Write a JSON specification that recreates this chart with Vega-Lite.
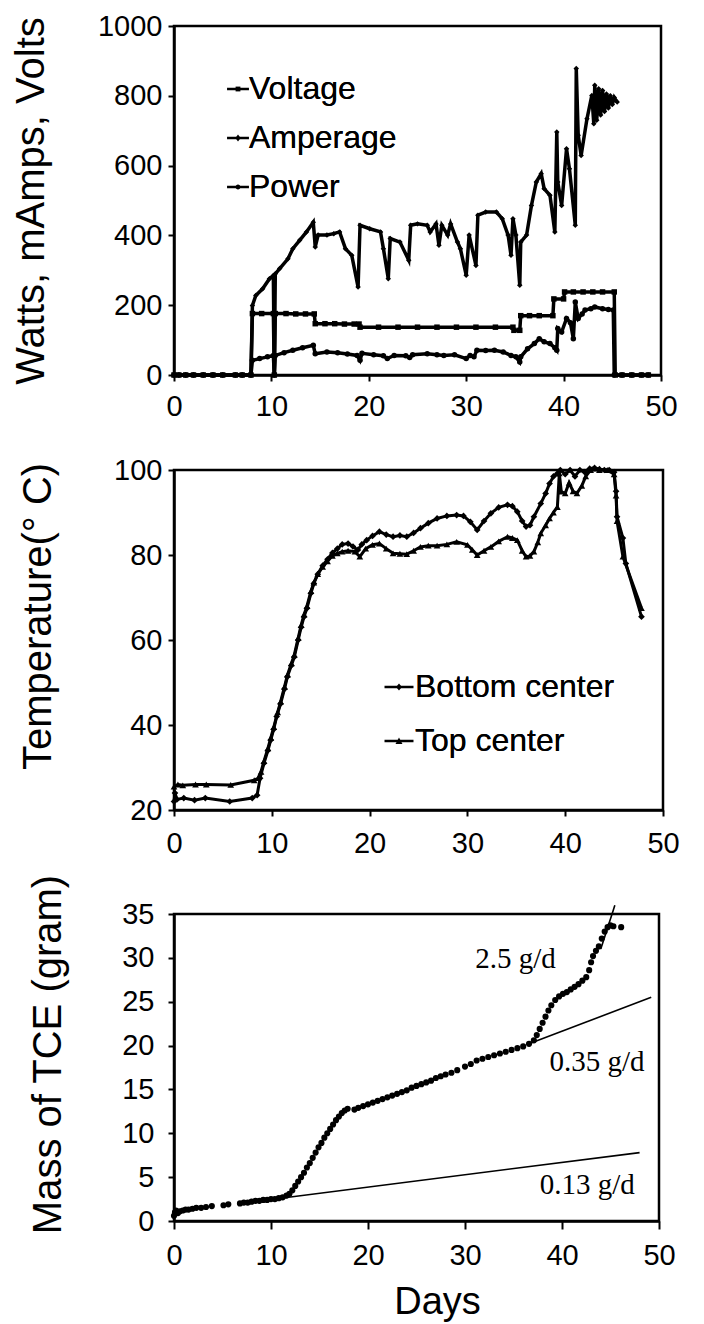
{
  "$schema": "https://vega.github.io/schema/vega-lite/v6.json",
  "padding": {"left": 10, "top": 10, "right": 5, "bottom": 0},
  "background": "white",
  "config": {
    "view": {"stroke": "black", "strokeWidth": 2.5},
    "font": "Liberation Sans",
    "axis": {"grid": false, "domainColor": "black", "domainWidth": 2.5, "tickColor": "black", "tickWidth": 2, "tickSize": 6, "labelColor": "black", "labelFontSize": 29, "labelFont": "Liberation Sans", "titleFont": "Liberation Sans", "titleFontSize": 40, "titleFontWeight": "normal", "titleColor": "black", "labelPadding": 6, "labelOverlap": false, "format": "d"},
    "legend": {"labelFont": "Liberation Sans", "labelColor": "black", "labelFontSize": 32, "labelLimit": 400, "symbolStrokeWidth": 2.5, "padding": 0, "labelOffset": 3}
  },
  "datasets": {
    "elec": [
      {"series":"Voltage","day":0,"value":0},{"series":"Voltage","day":0.5,"value":0},{"series":"Voltage","day":1.2,"value":0},{"series":"Voltage","day":2,"value":0},{"series":"Voltage","day":3,"value":0},{"series":"Voltage","day":4,"value":0},{"series":"Voltage","day":5,"value":0},{"series":"Voltage","day":6.3,"value":0},{"series":"Voltage","day":7,"value":0},{"series":"Voltage","day":7.9,"value":0},{"series":"Voltage","day":8.05,"value":176},{"series":"Voltage","day":9,"value":176},{"series":"Voltage","day":10.2,"value":176},{"series":"Voltage","day":10.3,"value":0},{"series":"Voltage","day":10.4,"value":176},{"series":"Voltage","day":11.5,"value":176},{"series":"Voltage","day":12.5,"value":175},{"series":"Voltage","day":13.5,"value":175},{"series":"Voltage","day":14.4,"value":175},{"series":"Voltage","day":14.5,"value":147},{"series":"Voltage","day":15.5,"value":147},{"series":"Voltage","day":16.5,"value":147},{"series":"Voltage","day":17.5,"value":146},{"series":"Voltage","day":18.5,"value":146},{"series":"Voltage","day":19.0,"value":146},{"series":"Voltage","day":19.1,"value":137},{"series":"Voltage","day":21,"value":137},{"series":"Voltage","day":23,"value":137},{"series":"Voltage","day":25,"value":137},{"series":"Voltage","day":27,"value":137},{"series":"Voltage","day":29,"value":137},{"series":"Voltage","day":31,"value":137},{"series":"Voltage","day":33,"value":137},{"series":"Voltage","day":34.8,"value":137},{"series":"Voltage","day":34.9,"value":128},{"series":"Voltage","day":35.5,"value":128},{"series":"Voltage","day":35.6,"value":170},{"series":"Voltage","day":36.5,"value":170},{"series":"Voltage","day":37.5,"value":170},{"series":"Voltage","day":38.9,"value":170},{"series":"Voltage","day":39.0,"value":218},{"series":"Voltage","day":40.0,"value":218},{"series":"Voltage","day":40.1,"value":238},{"series":"Voltage","day":41,"value":238},{"series":"Voltage","day":42,"value":238},{"series":"Voltage","day":43,"value":238},{"series":"Voltage","day":44,"value":238},{"series":"Voltage","day":45.2,"value":238},{"series":"Voltage","day":45.3,"value":0},{"series":"Voltage","day":46,"value":0},{"series":"Voltage","day":47,"value":0},{"series":"Voltage","day":48,"value":0},{"series":"Voltage","day":48.7,"value":0},
      {"series":"Amperage","day":0,"value":0},{"series":"Amperage","day":0.5,"value":0},{"series":"Amperage","day":1.2,"value":0},{"series":"Amperage","day":2,"value":0},{"series":"Amperage","day":3,"value":0},{"series":"Amperage","day":4,"value":0},{"series":"Amperage","day":5,"value":0},{"series":"Amperage","day":6.3,"value":0},{"series":"Amperage","day":7,"value":0},{"series":"Amperage","day":7.9,"value":0},{"series":"Amperage","day":8.05,"value":199},{"series":"Amperage","day":8.4,"value":228},{"series":"Amperage","day":9.1,"value":247},{"series":"Amperage","day":9.8,"value":276},{"series":"Amperage","day":10.2,"value":285},{"series":"Amperage","day":10.3,"value":0},{"series":"Amperage","day":10.4,"value":290},{"series":"Amperage","day":10.85,"value":305},{"series":"Amperage","day":11.7,"value":333},{"series":"Amperage","day":12.2,"value":362},{"series":"Amperage","day":12.9,"value":386},{"series":"Amperage","day":13.6,"value":410},{"series":"Amperage","day":14.3,"value":438},{"series":"Amperage","day":14.5,"value":367},{"series":"Amperage","day":14.8,"value":401},{"series":"Amperage","day":15.7,"value":401},{"series":"Amperage","day":16.4,"value":405},{"series":"Amperage","day":17.0,"value":410},{"series":"Amperage","day":17.6,"value":362},{"series":"Amperage","day":18.25,"value":343},{"series":"Amperage","day":18.9,"value":252},{"series":"Amperage","day":19.1,"value":429},{"series":"Amperage","day":20.1,"value":419},{"series":"Amperage","day":21.2,"value":410},{"series":"Amperage","day":21.5,"value":362},{"series":"Amperage","day":22.0,"value":276},{"series":"Amperage","day":22.2,"value":391},{"series":"Amperage","day":23.2,"value":381},{"series":"Amperage","day":24.1,"value":329},{"series":"Amperage","day":24.3,"value":429},{"series":"Amperage","day":25.0,"value":433},{"series":"Amperage","day":26.0,"value":429},{"series":"Amperage","day":26.3,"value":410},{"series":"Amperage","day":26.9,"value":433},{"series":"Amperage","day":27.2,"value":372},{"series":"Amperage","day":27.5,"value":429},{"series":"Amperage","day":28.1,"value":401},{"series":"Amperage","day":28.4,"value":433},{"series":"Amperage","day":29.1,"value":381},{"series":"Amperage","day":29.4,"value":362},{"series":"Amperage","day":30.0,"value":286},{"series":"Amperage","day":30.3,"value":401},{"series":"Amperage","day":31.0,"value":314},{"series":"Amperage","day":31.2,"value":458},{"series":"Amperage","day":32.0,"value":467},{"series":"Amperage","day":33.1,"value":467},{"series":"Amperage","day":33.7,"value":448},{"series":"Amperage","day":34.3,"value":401},{"series":"Amperage","day":34.6,"value":343},{"series":"Amperage","day":34.8,"value":448},{"series":"Amperage","day":35.1,"value":401},{"series":"Amperage","day":35.5,"value":257},{"series":"Amperage","day":35.6,"value":381},{"series":"Amperage","day":36.2,"value":401},{"series":"Amperage","day":36.7,"value":486},{"series":"Amperage","day":37.2,"value":553},{"series":"Amperage","day":37.7,"value":577},{"series":"Amperage","day":38.0,"value":534},{"series":"Amperage","day":38.6,"value":515},{"series":"Amperage","day":39.1,"value":410},{"series":"Amperage","day":39.3,"value":696},{"series":"Amperage","day":39.4,"value":553},{"series":"Amperage","day":39.8,"value":486},{"series":"Amperage","day":40.3,"value":648},{"series":"Amperage","day":40.6,"value":591},{"series":"Amperage","day":41.2,"value":429},{"series":"Amperage","day":41.3,"value":878},{"series":"Amperage","day":41.5,"value":687},{"series":"Amperage","day":41.8,"value":629},{"series":"Amperage","day":42.4,"value":734},{"series":"Amperage","day":42.9,"value":801},{"series":"Amperage","day":43.1,"value":720},{"series":"Amperage","day":43.2,"value":830},{"series":"Amperage","day":43.4,"value":730},{"series":"Amperage","day":43.6,"value":820},{"series":"Amperage","day":43.8,"value":745},{"series":"Amperage","day":44.0,"value":815},{"series":"Amperage","day":44.2,"value":755},{"series":"Amperage","day":44.4,"value":805},{"series":"Amperage","day":44.6,"value":765},{"series":"Amperage","day":44.8,"value":800},{"series":"Amperage","day":45.0,"value":775},{"series":"Amperage","day":45.2,"value":795},{"series":"Amperage","day":45.5,"value":782},
      {"series":"Power","day":0,"value":0},{"series":"Power","day":0.5,"value":0},{"series":"Power","day":1.2,"value":0},{"series":"Power","day":2,"value":0},{"series":"Power","day":3,"value":0},{"series":"Power","day":4,"value":0},{"series":"Power","day":5,"value":0},{"series":"Power","day":6.3,"value":0},{"series":"Power","day":7,"value":0},{"series":"Power","day":7.9,"value":0},{"series":"Power","day":8.05,"value":42},{"series":"Power","day":8.8,"value":47},{"series":"Power","day":9.6,"value":52},{"series":"Power","day":10.2,"value":56},{"series":"Power","day":10.3,"value":0},{"series":"Power","day":10.4,"value":56},{"series":"Power","day":11.3,"value":64},{"series":"Power","day":12.2,"value":71},{"series":"Power","day":13.2,"value":78},{"series":"Power","day":14.3,"value":85},{"series":"Power","day":14.5,"value":61},{"series":"Power","day":15.7,"value":66},{"series":"Power","day":16.8,"value":64},{"series":"Power","day":17.8,"value":60},{"series":"Power","day":18.8,"value":56},{"series":"Power","day":19.1,"value":42},{"series":"Power","day":19.3,"value":62},{"series":"Power","day":20.5,"value":58},{"series":"Power","day":21.5,"value":55},{"series":"Power","day":21.9,"value":47},{"series":"Power","day":22.6,"value":56},{"series":"Power","day":23.8,"value":55},{"series":"Power","day":24.2,"value":50},{"series":"Power","day":24.5,"value":58},{"series":"Power","day":26.0,"value":61},{"series":"Power","day":27.0,"value":58},{"series":"Power","day":27.7,"value":56},{"series":"Power","day":28.8,"value":58},{"series":"Power","day":30.0,"value":47},{"series":"Power","day":30.4,"value":56},{"series":"Power","day":30.8,"value":52},{"series":"Power","day":31.1,"value":71},{"series":"Power","day":32.0,"value":70},{"series":"Power","day":32.9,"value":71},{"series":"Power","day":33.8,"value":66},{"series":"Power","day":34.6,"value":56},{"series":"Power","day":35.1,"value":52},{"series":"Power","day":35.5,"value":37},{"series":"Power","day":35.6,"value":52},{"series":"Power","day":36.3,"value":75},{"series":"Power","day":37.0,"value":90},{"series":"Power","day":37.5,"value":104},{"series":"Power","day":38.0,"value":95},{"series":"Power","day":38.6,"value":90},{"series":"Power","day":39.1,"value":78},{"series":"Power","day":39.3,"value":71},{"series":"Power","day":39.4,"value":133},{"series":"Power","day":39.8,"value":123},{"series":"Power","day":40.3,"value":162},{"series":"Power","day":40.7,"value":150},{"series":"Power","day":41.0,"value":104},{"series":"Power","day":41.2,"value":209},{"series":"Power","day":41.5,"value":162},{"series":"Power","day":41.9,"value":175},{"series":"Power","day":42.2,"value":186},{"series":"Power","day":42.8,"value":190},{"series":"Power","day":43.2,"value":195},{"series":"Power","day":44.0,"value":190},{"series":"Power","day":44.6,"value":188},{"series":"Power","day":45.1,"value":186},{"series":"Power","day":45.2,"value":0},{"series":"Power","day":46,"value":0},{"series":"Power","day":47,"value":0},{"series":"Power","day":48,"value":0},{"series":"Power","day":48.7,"value":0}
    ],
    "temp": [
      {"series":"Bottom center","day":0,"temp":22},{"series":"Bottom center","day":0.1,"temp":24},{"series":"Bottom center","day":0.3,"temp":22.5},{"series":"Bottom center","day":1,"temp":22.8},{"series":"Bottom center","day":2.1,"temp":22.3},{"series":"Bottom center","day":3.2,"temp":22.8},{"series":"Bottom center","day":5.7,"temp":22},{"series":"Bottom center","day":8.0,"temp":22.8},{"series":"Bottom center","day":8.5,"temp":23.5},{"series":"Bottom center","day":8.8,"temp":27.5},{"series":"Bottom center","day":9.2,"temp":31},{"series":"Bottom center","day":9.6,"temp":34},{"series":"Bottom center","day":9.9,"temp":36.5},{"series":"Bottom center","day":10.2,"temp":39},{"series":"Bottom center","day":10.5,"temp":42},{"series":"Bottom center","day":10.9,"temp":45},{"series":"Bottom center","day":11.3,"temp":48.5},{"series":"Bottom center","day":11.6,"temp":51.4},{"series":"Bottom center","day":12.0,"temp":54},{"series":"Bottom center","day":12.3,"temp":56},{"series":"Bottom center","day":12.7,"temp":60},{"series":"Bottom center","day":13.0,"temp":63},{"series":"Bottom center","day":13.3,"temp":65.5},{"series":"Bottom center","day":13.6,"temp":67.5},{"series":"Bottom center","day":14.0,"temp":71},{"series":"Bottom center","day":14.3,"temp":73.3},{"series":"Bottom center","day":14.7,"temp":75.5},{"series":"Bottom center","day":15.2,"temp":77.5},{"series":"Bottom center","day":15.7,"temp":79},{"series":"Bottom center","day":16.2,"temp":80.5},{"series":"Bottom center","day":16.7,"temp":81.5},{"series":"Bottom center","day":17.2,"temp":82.5},{"series":"Bottom center","day":17.8,"temp":82.7},{"series":"Bottom center","day":18.3,"temp":82},{"series":"Bottom center","day":18.8,"temp":81.2},{"series":"Bottom center","day":19.2,"temp":82.5},{"series":"Bottom center","day":19.7,"temp":83.5},{"series":"Bottom center","day":20.3,"temp":84.5},{"series":"Bottom center","day":21.0,"temp":85.5},{"series":"Bottom center","day":21.7,"temp":84.8},{"series":"Bottom center","day":22.4,"temp":84.3},{"series":"Bottom center","day":23.1,"temp":84.6},{"series":"Bottom center","day":23.8,"temp":84.3},{"series":"Bottom center","day":24.5,"temp":85.2},{"series":"Bottom center","day":25.2,"temp":86.3},{"series":"Bottom center","day":26.0,"temp":87.5},{"series":"Bottom center","day":26.9,"temp":88.6},{"series":"Bottom center","day":27.9,"temp":89.2},{"series":"Bottom center","day":28.9,"temp":89.4},{"series":"Bottom center","day":29.6,"temp":89.2},{"series":"Bottom center","day":30.3,"temp":87.8},{"series":"Bottom center","day":31.0,"temp":85.9},{"series":"Bottom center","day":31.7,"temp":88},{"series":"Bottom center","day":32.4,"temp":89.8},{"series":"Bottom center","day":33.2,"temp":91.2},{"series":"Bottom center","day":34.1,"temp":91.8},{"series":"Bottom center","day":34.6,"temp":91.5},{"series":"Bottom center","day":35.1,"temp":90.2},{"series":"Bottom center","day":35.6,"temp":88},{"series":"Bottom center","day":36.0,"temp":86.7},{"series":"Bottom center","day":36.4,"temp":87},{"series":"Bottom center","day":36.8,"temp":89},{"series":"Bottom center","day":37.5,"temp":92.1},{"series":"Bottom center","day":38.0,"temp":94.5},{"series":"Bottom center","day":38.4,"temp":96.8},{"series":"Bottom center","day":38.8,"temp":98.5},{"series":"Bottom center","day":39.2,"temp":99.2},{"series":"Bottom center","day":39.5,"temp":100},{"series":"Bottom center","day":40.0,"temp":99},{"series":"Bottom center","day":40.5,"temp":100},{"series":"Bottom center","day":41.0,"temp":98.5},{"series":"Bottom center","day":41.5,"temp":100},{"series":"Bottom center","day":42.0,"temp":99.5},{"series":"Bottom center","day":42.5,"temp":100.3},{"series":"Bottom center","day":43.0,"temp":100.5},{"series":"Bottom center","day":43.5,"temp":100.2},{"series":"Bottom center","day":44.0,"temp":100},{"series":"Bottom center","day":44.5,"temp":100},{"series":"Bottom center","day":45.0,"temp":99.5},{"series":"Bottom center","day":45.2,"temp":95},{"series":"Bottom center","day":45.3,"temp":89},{"series":"Bottom center","day":45.9,"temp":84},{"series":"Bottom center","day":46.2,"temp":78},{"series":"Bottom center","day":47.8,"temp":65.5},
      {"series":"Top center","day":0,"temp":25.5},{"series":"Top center","day":0.4,"temp":26},{"series":"Top center","day":0.9,"temp":25.8},{"series":"Top center","day":2.2,"temp":26},{"series":"Top center","day":3.3,"temp":26},{"series":"Top center","day":5.8,"temp":25.9},{"series":"Top center","day":8.2,"temp":27},{"series":"Top center","day":8.6,"temp":27.5},{"series":"Top center","day":8.9,"temp":29},{"series":"Top center","day":9.2,"temp":31.5},{"series":"Top center","day":9.6,"temp":34.5},{"series":"Top center","day":9.9,"temp":37},{"series":"Top center","day":10.2,"temp":39.5},{"series":"Top center","day":10.6,"temp":43},{"series":"Top center","day":10.9,"temp":45.5},{"series":"Top center","day":11.3,"temp":49},{"series":"Top center","day":11.6,"temp":51.8},{"series":"Top center","day":12.0,"temp":54.5},{"series":"Top center","day":12.3,"temp":56.5},{"series":"Top center","day":12.7,"temp":60.5},{"series":"Top center","day":13.0,"temp":63.5},{"series":"Top center","day":13.3,"temp":66},{"series":"Top center","day":13.6,"temp":68},{"series":"Top center","day":14.0,"temp":71.5},{"series":"Top center","day":14.3,"temp":73.5},{"series":"Top center","day":14.7,"temp":75.5},{"series":"Top center","day":15.2,"temp":77.2},{"series":"Top center","day":15.7,"temp":78.5},{"series":"Top center","day":16.2,"temp":79.8},{"series":"Top center","day":16.7,"temp":80.4},{"series":"Top center","day":17.2,"temp":80.8},{"series":"Top center","day":17.8,"temp":81},{"series":"Top center","day":18.5,"temp":80.8},{"series":"Top center","day":19.0,"temp":79.6},{"series":"Top center","day":19.6,"temp":81.5},{"series":"Top center","day":20.3,"temp":82.4},{"series":"Top center","day":21.0,"temp":82.7},{"series":"Top center","day":21.7,"temp":81.5},{"series":"Top center","day":22.4,"temp":80.4},{"series":"Top center","day":23.1,"temp":80.3},{"series":"Top center","day":23.8,"temp":80.2},{"series":"Top center","day":24.5,"temp":81},{"series":"Top center","day":25.2,"temp":81.9},{"series":"Top center","day":26.0,"temp":82.2},{"series":"Top center","day":26.9,"temp":82.2},{"series":"Top center","day":27.9,"temp":82.5},{"series":"Top center","day":28.9,"temp":83.1},{"series":"Top center","day":30.0,"temp":82.4},{"series":"Top center","day":30.5,"temp":81.2},{"series":"Top center","day":31.0,"temp":80},{"series":"Top center","day":31.7,"temp":81},{"series":"Top center","day":32.4,"temp":81.9},{"series":"Top center","day":33.2,"temp":83.2},{"series":"Top center","day":34.1,"temp":84.3},{"series":"Top center","day":34.6,"temp":84},{"series":"Top center","day":35.1,"temp":83.5},{"series":"Top center","day":35.6,"temp":81},{"series":"Top center","day":36.0,"temp":79.6},{"series":"Top center","day":36.4,"temp":79.8},{"series":"Top center","day":36.8,"temp":80.8},{"series":"Top center","day":37.2,"temp":83},{"series":"Top center","day":37.5,"temp":85.1},{"series":"Top center","day":38.0,"temp":87},{"series":"Top center","day":38.4,"temp":88.6},{"series":"Top center","day":38.8,"temp":90},{"series":"Top center","day":39.2,"temp":91.3},{"series":"Top center","day":39.4,"temp":99.2},{"series":"Top center","day":39.6,"temp":94.9},{"series":"Top center","day":40.0,"temp":94.5},{"series":"Top center","day":40.4,"temp":97},{"series":"Top center","day":40.8,"temp":95},{"series":"Top center","day":41.2,"temp":94.5},{"series":"Top center","day":41.7,"temp":96.3},{"series":"Top center","day":42.1,"temp":98.5},{"series":"Top center","day":42.6,"temp":100},{"series":"Top center","day":43.5,"temp":100},{"series":"Top center","day":44.3,"temp":100},{"series":"Top center","day":45.0,"temp":99},{"series":"Top center","day":45.2,"temp":94},{"series":"Top center","day":45.3,"temp":88},{"series":"Top center","day":45.9,"temp":79.6},{"series":"Top center","day":47.8,"temp":67.5}
    ],
    "tce": [
      {"day":0,"mass":0.6},{"day":0.1,"mass":1.0},{"day":0.2,"mass":1.2},{"day":0.4,"mass":0.9},{"day":0.6,"mass":1.1},{"day":0.9,"mass":1.2},{"day":1.2,"mass":1.3},{"day":1.5,"mass":1.3},{"day":1.9,"mass":1.4},{"day":2.3,"mass":1.5},{"day":2.8,"mass":1.5},{"day":3.3,"mass":1.6},{"day":3.9,"mass":1.7},{"day":5.1,"mass":1.8},{"day":5.6,"mass":1.9},{"day":6.8,"mass":2.0},{"day":7.2,"mass":2.1},{"day":7.6,"mass":2.1},{"day":8.0,"mass":2.2},{"day":8.4,"mass":2.3},{"day":8.8,"mass":2.3},{"day":9.2,"mass":2.4},{"day":9.6,"mass":2.4},{"day":10.0,"mass":2.5},{"day":10.4,"mass":2.5},{"day":10.8,"mass":2.6},{"day":11.2,"mass":2.7},{"day":11.6,"mass":2.9},{"day":11.9,"mass":3.1},{"day":12.2,"mass":3.5},{"day":12.5,"mass":4.0},{"day":12.8,"mass":4.5},{"day":13.1,"mass":5.0},{"day":13.4,"mass":5.5},{"day":13.7,"mass":6.1},{"day":14.0,"mass":6.6},{"day":14.3,"mass":7.2},{"day":14.6,"mass":7.8},{"day":14.9,"mass":8.4},{"day":15.2,"mass":8.9},{"day":15.5,"mass":9.5},{"day":15.8,"mass":10.0},{"day":16.1,"mass":10.5},{"day":16.4,"mass":11.0},{"day":16.7,"mass":11.5},{"day":17.0,"mass":11.9},{"day":17.3,"mass":12.3},{"day":17.6,"mass":12.6},{"day":17.9,"mass":12.8},{"day":18.6,"mass":12.7},{"day":19.0,"mass":12.9},{"day":19.5,"mass":13.1},{"day":20.0,"mass":13.3},{"day":20.5,"mass":13.5},{"day":21.0,"mass":13.7},{"day":21.5,"mass":13.9},{"day":22.0,"mass":14.1},{"day":22.5,"mass":14.3},{"day":23.0,"mass":14.5},{"day":23.5,"mass":14.7},{"day":24.0,"mass":14.9},{"day":24.5,"mass":15.2},{"day":25.0,"mass":15.4},{"day":25.5,"mass":15.6},{"day":26.0,"mass":15.8},{"day":26.5,"mass":16.0},{"day":27.0,"mass":16.3},{"day":27.5,"mass":16.5},{"day":28.0,"mass":16.7},{"day":28.6,"mass":16.9},{"day":29.2,"mass":17.2},{"day":30.0,"mass":17.6},{"day":30.6,"mass":17.9},{"day":31.2,"mass":18.3},{"day":31.8,"mass":18.5},{"day":32.4,"mass":18.7},{"day":33.0,"mass":18.9},{"day":33.6,"mass":19.1},{"day":34.2,"mass":19.3},{"day":34.8,"mass":19.5},{"day":35.4,"mass":19.7},{"day":36.0,"mass":19.9},{"day":36.6,"mass":20.2},{"day":37.1,"mass":20.6},{"day":37.4,"mass":21.2},{"day":37.7,"mass":21.9},{"day":38.0,"mass":22.6},{"day":38.3,"mass":23.3},{"day":38.6,"mass":24.0},{"day":38.9,"mass":24.6},{"day":39.3,"mass":25.2},{"day":39.7,"mass":25.6},{"day":40.1,"mass":25.9},{"day":40.5,"mass":26.1},{"day":40.9,"mass":26.4},{"day":41.3,"mass":26.7},{"day":41.7,"mass":27.0},{"day":42.1,"mass":27.4},{"day":42.5,"mass":27.8},{"day":42.8,"mass":28.6},{"day":43.0,"mass":29.5},{"day":43.2,"mass":30.2},{"day":43.5,"mass":30.8},{"day":43.8,"mass":31.3},{"day":44.1,"mass":32.2},{"day":44.4,"mass":33.0},{"day":44.7,"mass":33.5},{"day":45.0,"mass":33.7},{"day":45.3,"mass":33.6},{"day":46.1,"mass":33.5}
    ],
    "fits": [
      {"fit":"0.13 g/d","day":11,"mass":2.6},{"fit":"0.13 g/d","day":48,"mass":7.8},
      {"fit":"0.35 g/d","day":36.8,"mass":20.3},{"fit":"0.35 g/d","day":49.2,"mass":25.5},
      {"fit":"2.5 g/d","day":44.0,"mass":31.0},{"fit":"2.5 g/d","day":45.45,"mass":36.0}
    ],
    "notes": [
      {"label":"2.5 g/d","day":35.2,"mass":29.9},
      {"label":"0.35 g/d","day":43.6,"mass":18.1},
      {"label":"0.13 g/d","day":42.6,"mass":4.1}
    ]
  },
  "columns": 1,
  "spacing": 12,
  "resolve": {"scale": {"shape": "independent", "color": "independent"}, "legend": {"shape": "independent", "color": "independent"}},
  "concat": [
    {
      "width": 487,
      "height": 349,
      "data": {"name": "elec"},
      "encoding": {
        "x": {"field": "day", "type": "quantitative", "scale": {"domain": [0, 50], "nice": false, "zero": false}, "axis": {"values": [0, 10, 20, 30, 40, 50], "title": " ", "titleFontSize": 8, "titlePadding": 11, "labelFlush": false, "labelPadding": 11}},
        "y": {"field": "value", "type": "quantitative", "scale": {"domain": [0, 1000], "nice": false}, "axis": {"values": [0, 200, 400, 600, 800, 1000], "title": "Watts, mAmps, Volts", "titlePadding": 45.7}}
      },
      "resolve": {"scale": {"shape": "independent", "color": "independent"}, "legend": {"shape": "independent", "color": "independent"}},
      "layer": [
        {"mark": {"type": "line", "strokeWidth": 3.5},
         "encoding": {"color": {"field": "series", "type": "nominal", "sort": ["Voltage", "Amperage", "Power"], "scale": {"range": ["black", "black", "black"]},
           "legend": {"title": null, "orient": "none", "legendX": 48, "legendY": 47, "symbolType": "stroke", "symbolSize": 480, "symbolStrokeWidth": 2.5, "rowPadding": 17, "labelOffset": -5}}}},
        {"mark": {"type": "point", "filled": true, "color": "black", "size": 30, "opacity": 1},
         "encoding": {"shape": {"field": "series", "type": "nominal",
           "scale": {"domain": ["Voltage", "Amperage", "Power"], "range": ["square", "diamond", "circle"]}, "legend": null}}},
        {"transform": [{"filter": "datum.day < 0"}],
         "mark": {"type": "point", "filled": true, "color": "black", "size": 480, "opacity": 1},
         "encoding": {"shape": {"field": "series", "type": "nominal",
           "scale": {"domain": ["Voltage", "Amperage", "Power"], "range": ["M-0.22,-0.22H0.22V0.22H-0.22Z", "M0,-0.32L0.24,0L0,0.32L-0.24,0Z", "M0.22,0A0.22,0.22,0,1,1,-0.22,0A0.22,0.22,0,1,1,0.22,0Z"]},
           "legend": {"title": null, "orient": "none", "legendX": 48, "legendY": 47, "symbolSize": 480, "symbolStrokeWidth": 2.5, "rowPadding": 17, "labelOffset": -5}}}}
      ]
    },
    {
      "width": 489,
      "height": 340,
      "data": {"name": "temp"},
      "encoding": {
        "x": {"field": "day", "type": "quantitative", "scale": {"domain": [0, 50], "nice": false, "zero": false}, "axis": {"values": [0, 10, 20, 30, 40, 50], "title": null, "labelFlush": false, "labelPadding": 13}},
        "y": {"field": "temp", "type": "quantitative", "scale": {"domain": [20, 100], "nice": false, "zero": false}, "axis": {"values": [20, 40, 60, 80, 100], "title": "Temperature(° C)", "titlePadding": 54.8, "titleY": 146}}
      },
      "resolve": {"scale": {"shape": "independent", "color": "independent"}, "legend": {"shape": "independent", "color": "independent"}},
      "layer": [
        {"mark": {"type": "line", "strokeWidth": 3},
         "encoding": {"color": {"field": "series", "type": "nominal", "sort": ["Bottom center", "Top center"], "scale": {"range": ["black", "black"]},
           "legend": {"title": null, "orient": "none", "legendX": 209, "legendY": 201, "symbolType": "stroke", "symbolSize": 840, "symbolStrokeWidth": 2.5, "rowPadding": 22, "labelOffset": 0}}}},
        {"mark": {"type": "point", "filled": true, "color": "black", "size": 45, "opacity": 1},
         "encoding": {"shape": {"field": "series", "type": "nominal",
           "scale": {"domain": ["Bottom center", "Top center"], "range": ["diamond", "triangle-up"]}, "legend": null}}},
        {"transform": [{"filter": "datum.day < 0"}],
         "mark": {"type": "point", "filled": true, "color": "black", "size": 840, "opacity": 1},
         "encoding": {"shape": {"field": "series", "type": "nominal",
           "scale": {"domain": ["Bottom center", "Top center"], "range": ["M0,-0.24L0.2,0L0,0.24L-0.2,0Z", "M0,-0.24L0.24,0.2H-0.24Z"]},
           "legend": {"title": null, "orient": "none", "legendX": 209, "legendY": 201, "symbolSize": 840, "symbolStrokeWidth": 2.5, "rowPadding": 22, "labelOffset": 0}}}}
      ]
    },
    {
      "width": 485,
      "height": 307,
      "encoding": {
        "x": {"field": "day", "type": "quantitative", "scale": {"domain": [0, 50], "nice": false, "zero": false}, "axis": {"values": [0, 10, 20, 30, 40, 50], "title": "Days", "titleFontSize": 38, "labelFlush": false, "tickSize": 8, "labelPadding": 12, "titlePadding": 13, "titleX": 263}},
        "y": {"field": "mass", "type": "quantitative", "scale": {"domain": [0, 35], "nice": false}, "axis": {"values": [0, 5, 10, 15, 20, 25, 30, 35], "title": "Mass of TCE (gram)", "labelPadding": 14, "titlePadding": 53, "titleY": 140}}
      },
      "layer": [
        {"data": {"name": "tce"}, "mark": {"type": "point", "filled": true, "color": "black", "size": 38, "opacity": 1}},
        {"data": {"name": "fits"}, "mark": {"type": "line", "color": "black", "strokeWidth": 1.6}, "encoding": {"detail": {"field": "fit"}}},
        {"data": {"name": "notes"}, "mark": {"type": "text", "font": "Liberation Serif", "fontSize": 29, "color": "black", "align": "center", "baseline": "middle"}, "encoding": {"text": {"field": "label"}}}
      ]
    }
  ]
}
